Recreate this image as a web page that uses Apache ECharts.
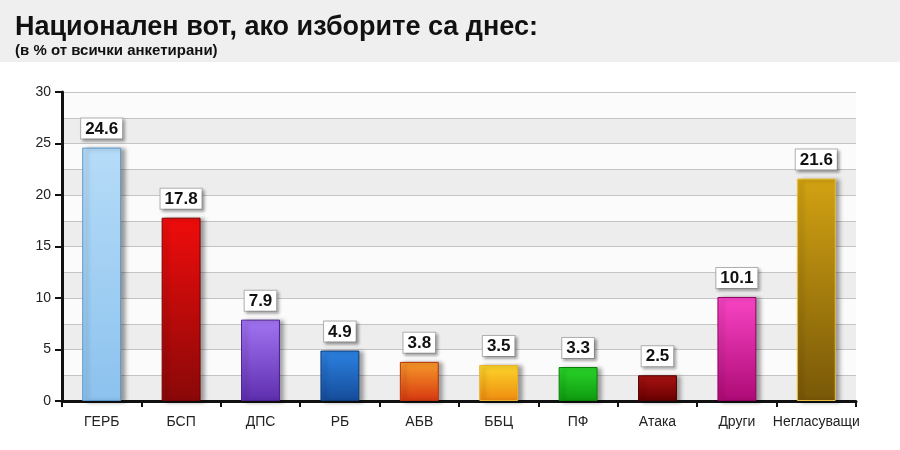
<!DOCTYPE html>
<html>
<head>
<meta charset="utf-8">
<script src="https://cdn.jsdelivr.net/npm/echarts@6/dist/echarts.min.js"></script>
<style>
html,body{margin:0;padding:0;background:#fff;}
#chart{width:900px;height:450px;}
</style>
</head>
<body>
<div id="chart"></div>
<script>
const titleText = 'Национален вот, ако изборите са днес:';
const subtitleText = '(в % от всички анкетирани)';
const categories = ['ГЕРБ','БСП','ДПС','РБ','АБВ','ББЦ','ПФ','Атака','Други','Негласуващи'];
const values = [24.6,17.8,7.9,4.9,3.8,3.5,3.3,2.5,10.1,21.6];
const yTicks = [0,5,10,15,20,25,30];

const topColors = ['#b6dcf8','#f00c0c','#a274f2','#2c82e2','#f69a2a','#fcd62a','#2ad42a','#aa1212','#f844c4','#d2a212'];
const bottomColors = ['#8cc2ee','#8a0808','#5e2eae','#154c9a','#d63810','#ee8a10','#0e9a0e','#680000','#ae0a76','#785808'];
const borderColors = ['#5a96cc','#7a0000','#4a2090','#0e3a7a','#b83008','#e8b030','#088008','#500000','#900060','#e8c040'];

const FONT = 'Liberation Sans, Arial, sans-serif';
const chart = echarts.init(document.getElementById('chart'));
const data = values.map((v, i) => ({
  value: v,
  itemStyle: {
    color: new echarts.graphic.LinearGradient(0, 0, 0, 1, [
      {offset: 0, color: topColors[i]},
      {offset: 1, color: bottomColors[i]}
    ]),
    borderColor: borderColors[i],
    borderWidth: 1
  }
}));

chart.setOption({
  animation: false,
  backgroundColor: '#ffffff',
  graphic: [{
    type: 'rect', z: -10, silent: true,
    shape: {x: 0, y: 0, width: 900, height: 62},
    style: {fill: '#efefef'}
  }],
  title: {
    text: titleText,
    subtext: subtitleText,
    left: 10, top: 9,
    itemGap: 2,
    textStyle: {fontFamily: FONT, fontSize: 27, fontWeight: 'bold', color: '#111'},
    subtextStyle: {fontFamily: FONT, fontSize: 15, fontWeight: 'bold', color: '#111'}
  },
  grid: {left: 62, right: 44, top: 92, bottom: 49, containLabel: false},
  xAxis: {
    type: 'category',
    data: categories,
    axisLine: {show: true, lineStyle: {color: '#111', width: 3}},
    axisTick: {show: true, length: 6, lineStyle: {color: '#111', width: 2}},
    axisLabel: {margin: 14, fontSize: 14, color: '#222', fontFamily: FONT, interval: 0}
  },
  yAxis: [{
    type: 'value', min: 0, max: 30, interval: 2.5,
    axisLine: {show: false}, axisTick: {show: false}, axisLabel: {show: false},
    splitLine: {show: true, lineStyle: {color: '#c4c4c4', width: 1}},
    splitArea: {show: true, areaStyle: {color: ['#ededed', '#fbfbfb']}}
  }, {
    type: 'value', min: yTicks[0], max: yTicks[yTicks.length - 1], interval: yTicks[1] - yTicks[0],
    position: 'left',
    axisLine: {show: true, lineStyle: {color: '#111', width: 3}},
    axisTick: {show: true, length: 7, lineStyle: {color: '#111', width: 2}},
    axisLabel: {margin: 11, fontSize: 14, color: '#222', fontFamily: FONT},
    splitLine: {show: false}
  }],
  series: [{
    type: 'bar',
    yAxisIndex: 0,
    barWidth: '49%',
    data: data,
    itemStyle: {shadowColor: 'rgba(0,0,0,0.35)', shadowBlur: 4, shadowOffsetX: 4, shadowOffsetY: 1},
    label: {
      show: true, position: 'top', distance: 9,
      formatter: p => p.value.toFixed(1),
      backgroundColor: '#ffffff',
      borderColor: '#b0b0b0', borderWidth: 1,
      padding: [2, 4, 1, 4],
      fontSize: 17, fontWeight: 'bold', color: '#111',
      fontFamily: FONT,
      shadowColor: 'rgba(0,0,0,0.3)', shadowBlur: 3, shadowOffsetX: 2, shadowOffsetY: 2
    }
  }]
});
</script>
</body>
</html>
